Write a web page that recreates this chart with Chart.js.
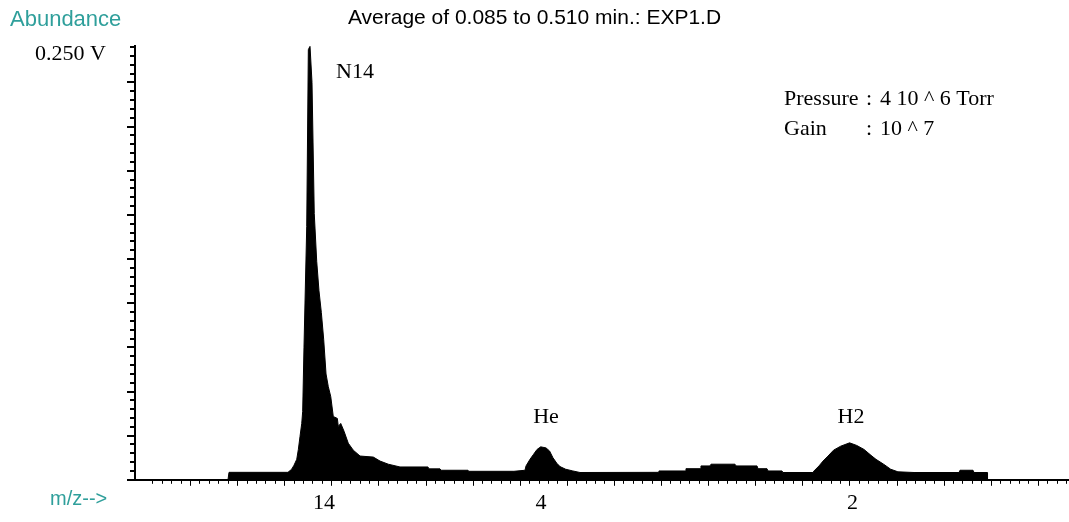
<!DOCTYPE html>
<html>
<head>
<meta charset="utf-8">
<title>Average of 0.085 to 0.510 min.: EXP1.D</title>
<script src="https://cdn.jsdelivr.net/npm/chart.js@4.4.1/dist/chart.umd.min.js"></script>
<style>
  html, body { margin: 0; padding: 0; background: #fff; }
  #wrap { width: 1069px; height: 522px; }
</style>
</head>
<body>
<div id="wrap"><canvas id="spectrum"></canvas></div>
<script>
// Scan position (axis units) and averaged signal (V)
const scan = [
    9.87, 9.98, 16.24, 16.63, 16.88, 17.17, 17.34, 17.52, 17.70, 17.80,
    17.94, 18.23, 18.40, 18.58, 18.79, 19.03, 19.29, 19.53, 19.78, 20.03,
    20.28, 20.52, 20.78, 21.05, 21.48, 21.58, 21.84, 22.19, 22.64, 23.17,
    23.89, 25.30, 26.01, 26.89, 28.13, 31.10, 31.20, 32.38, 32.50, 35.35,
    35.45, 40.23, 41.40, 41.51, 41.93, 42.31, 42.68, 43.07, 43.63, 44.01,
    44.37, 44.78, 45.12, 45.72, 46.48, 47.24, 55.52, 55.62, 58.39, 58.49,
    59.98, 60.08, 61.03, 61.15, 63.69, 63.80, 66.03, 66.14, 67.09, 67.20,
    68.68, 68.79, 71.97, 72.08, 72.61, 73.04, 73.57, 74.16, 74.92, 75.86,
    76.62, 77.39, 78.13, 78.66, 79.47, 80.22, 80.99, 82.70, 87.47, 87.58,
    88.96, 89.07, 90.45, 90.50
];
const abundance = [
    0, 0.0043, 0.0043, 0.0061, 0.0084, 0.0118, 0.0175, 0.0251, 0.0325, 0.0394,
    0.0765, 0.146, 0.248, 0.250, 0.229, 0.1535, 0.126, 0.109, 0.0965, 0.081,
    0.061, 0.0537, 0.048, 0.0365, 0.0354, 0.0308, 0.0325, 0.028, 0.0211, 0.0171,
    0.0137, 0.0131, 0.0108, 0.0090, 0.0074, 0.0074, 0.0063, 0.0063, 0.0055, 0.0055,
    0.0049, 0.0049, 0.0055, 0.0080, 0.0118, 0.0147, 0.0175, 0.0190, 0.0184, 0.0166,
    0.0127, 0.0095, 0.0076, 0.0061, 0.0051, 0.0042, 0.0043, 0.0051, 0.0051, 0.0064,
    0.0064, 0.0080, 0.0080, 0.0090, 0.0090, 0.0080, 0.0080, 0.0064, 0.0064, 0.0051,
    0.0051, 0.0042, 0.0042, 0.0051, 0.0080, 0.0108, 0.0137, 0.0171, 0.0194, 0.0213,
    0.0198, 0.0175, 0.0141, 0.0118, 0.0090, 0.0061, 0.0046, 0.0042, 0.0042, 0.0055,
    0.0055, 0.0042, 0.0042, 0
];

// m/z labels under the axis
const mzTickScan = [20.06, 43.1, 76.17];
const mzTickLabels = ['14', '4', '2'];

// peak names
const peakNames = ['N14', 'He', 'H2'];
const peakScan = [23.35, 43.63, 76.01];
const peakLevel = [0.2316, 0.0325, 0.0325];

const yMax = 0.25;
const yTopLabel = '0.250 V';
const infoLabels = ['Pressure', 'Gain'];
const infoValues = ['4 10 ^ 6 Torr', '10 ^ 7'];

const X_MAX = 99.15;
const X_FIRST_TICK = 0.84;   // minor tick every unit, long one every 5th
const Y_MINOR = 0.005091;    // minor tick step in volts

const SERIF = '"Liberation Serif", "Times New Roman", serif';
const SANS = '"Liberation Sans", Arial, sans-serif';
const TEAL = '#2f9f9b';

// small/long tick marks on both axes
const tickMarks = {
    id: 'tickMarks',
    afterDraw(chart) {
        const { ctx, chartArea, scales: { x, y } } = chart;
        ctx.save();
        ctx.strokeStyle = '#000';

        ctx.lineWidth = 2;
        for (let k = 0; k * Y_MINOR <= yMax + 1e-9; k++) {
            const py = Math.round(y.getPixelForValue(k * Y_MINOR));
            const len = k % 5 === 0 ? 8 : 5;
            ctx.beginPath();
            ctx.moveTo(chartArea.left - len, py);
            ctx.lineTo(chartArea.left - 1, py);
            ctx.stroke();
        }

        ctx.lineWidth = 1;
        for (let k = 1; X_FIRST_TICK + k <= x.max; k++) {
            const px = Math.round(x.getPixelForValue(X_FIRST_TICK + k)) + 0.5;
            const len = k % 5 === 0 ? 6 : 4;
            ctx.beginPath();
            ctx.moveTo(px, chartArea.bottom);
            ctx.lineTo(px, chartArea.bottom + len);
            ctx.stroke();
        }
        ctx.restore();
    }
};

// axis captions, peak names and the instrument note
const textLabels = {
    id: 'textLabels',
    afterDraw(chart) {
        const { ctx, scales: { x, y } } = chart;
        ctx.save();
        ctx.textBaseline = 'alphabetic';

        ctx.fillStyle = TEAL;
        ctx.font = '22px ' + SANS;
        ctx.textAlign = 'left';
        ctx.fillText('Abundance', 10, 26);
        ctx.font = '20px ' + SANS;
        ctx.fillText('m/z-->', 50, 505);

        ctx.fillStyle = '#000';
        ctx.font = '22px ' + SERIF;
        ctx.textAlign = 'center';
        peakNames.forEach((name, i) => {
            ctx.fillText(name, x.getPixelForValue(peakScan[i]), y.getPixelForValue(peakLevel[i]));
        });

        ctx.textAlign = 'left';
        infoLabels.forEach((label, i) => {
            const by = 105 + i * 30;
            ctx.fillText(label, 784, by);
            ctx.fillText(':', 866, by);
            ctx.fillText(infoValues[i], 880, by);
        });
        ctx.restore();
    }
};

new Chart(document.getElementById('spectrum'), {
    type: 'line',
    data: {
        datasets: [{
            data: scan.map((s, i) => ({ x: s, y: abundance[i] })),
            borderColor: '#000',
            backgroundColor: '#000',
            borderWidth: 1,
            pointRadius: 0,
            fill: 'origin',
            tension: 0
        }]
    },
    options: {
        responsive: true,
        maintainAspectRatio: false,
        animation: false,
        layout: { padding: 0 },
        plugins: {
            legend: { display: false },
            tooltip: { enabled: false },
            title: {
                display: true,
                text: 'Average of 0.085 to 0.510 min.: EXP1.D',
                color: '#000',
                font: { family: SANS, size: 21, weight: 'normal' },
                padding: { top: 6, bottom: 15 }
            }
        },
        scales: {
            x: {
                type: 'linear',
                min: 0,
                max: X_MAX,
                grid: { display: false, drawTicks: false },
                border: { display: true, color: '#000', width: 2 },
                afterBuildTicks: scale => { scale.ticks = mzTickScan.map(v => ({ value: v })); },
                afterFit: scale => { scale.height = 38; },
                ticks: {
                    autoSkip: false,
                    maxRotation: 0,
                    padding: 10,
                    color: '#000',
                    font: { family: SERIF, size: 22 },
                    callback: (v, i) => mzTickLabels[i]
                }
            },
            y: {
                min: 0,
                max: yMax,
                grid: { display: false, drawTicks: false },
                border: { display: true, color: '#000', width: 2 },
                afterBuildTicks: scale => { scale.ticks = [{ value: yMax }]; },
                afterFit: scale => { scale.width = 135; },
                ticks: {
                    padding: 29,
                    labelOffset: 8,
                    color: '#000',
                    font: { family: SERIF, size: 22 },
                    callback: () => yTopLabel
                }
            }
        }
    },
    plugins: [tickMarks, textLabels]
});
</script>
</body>
</html>
